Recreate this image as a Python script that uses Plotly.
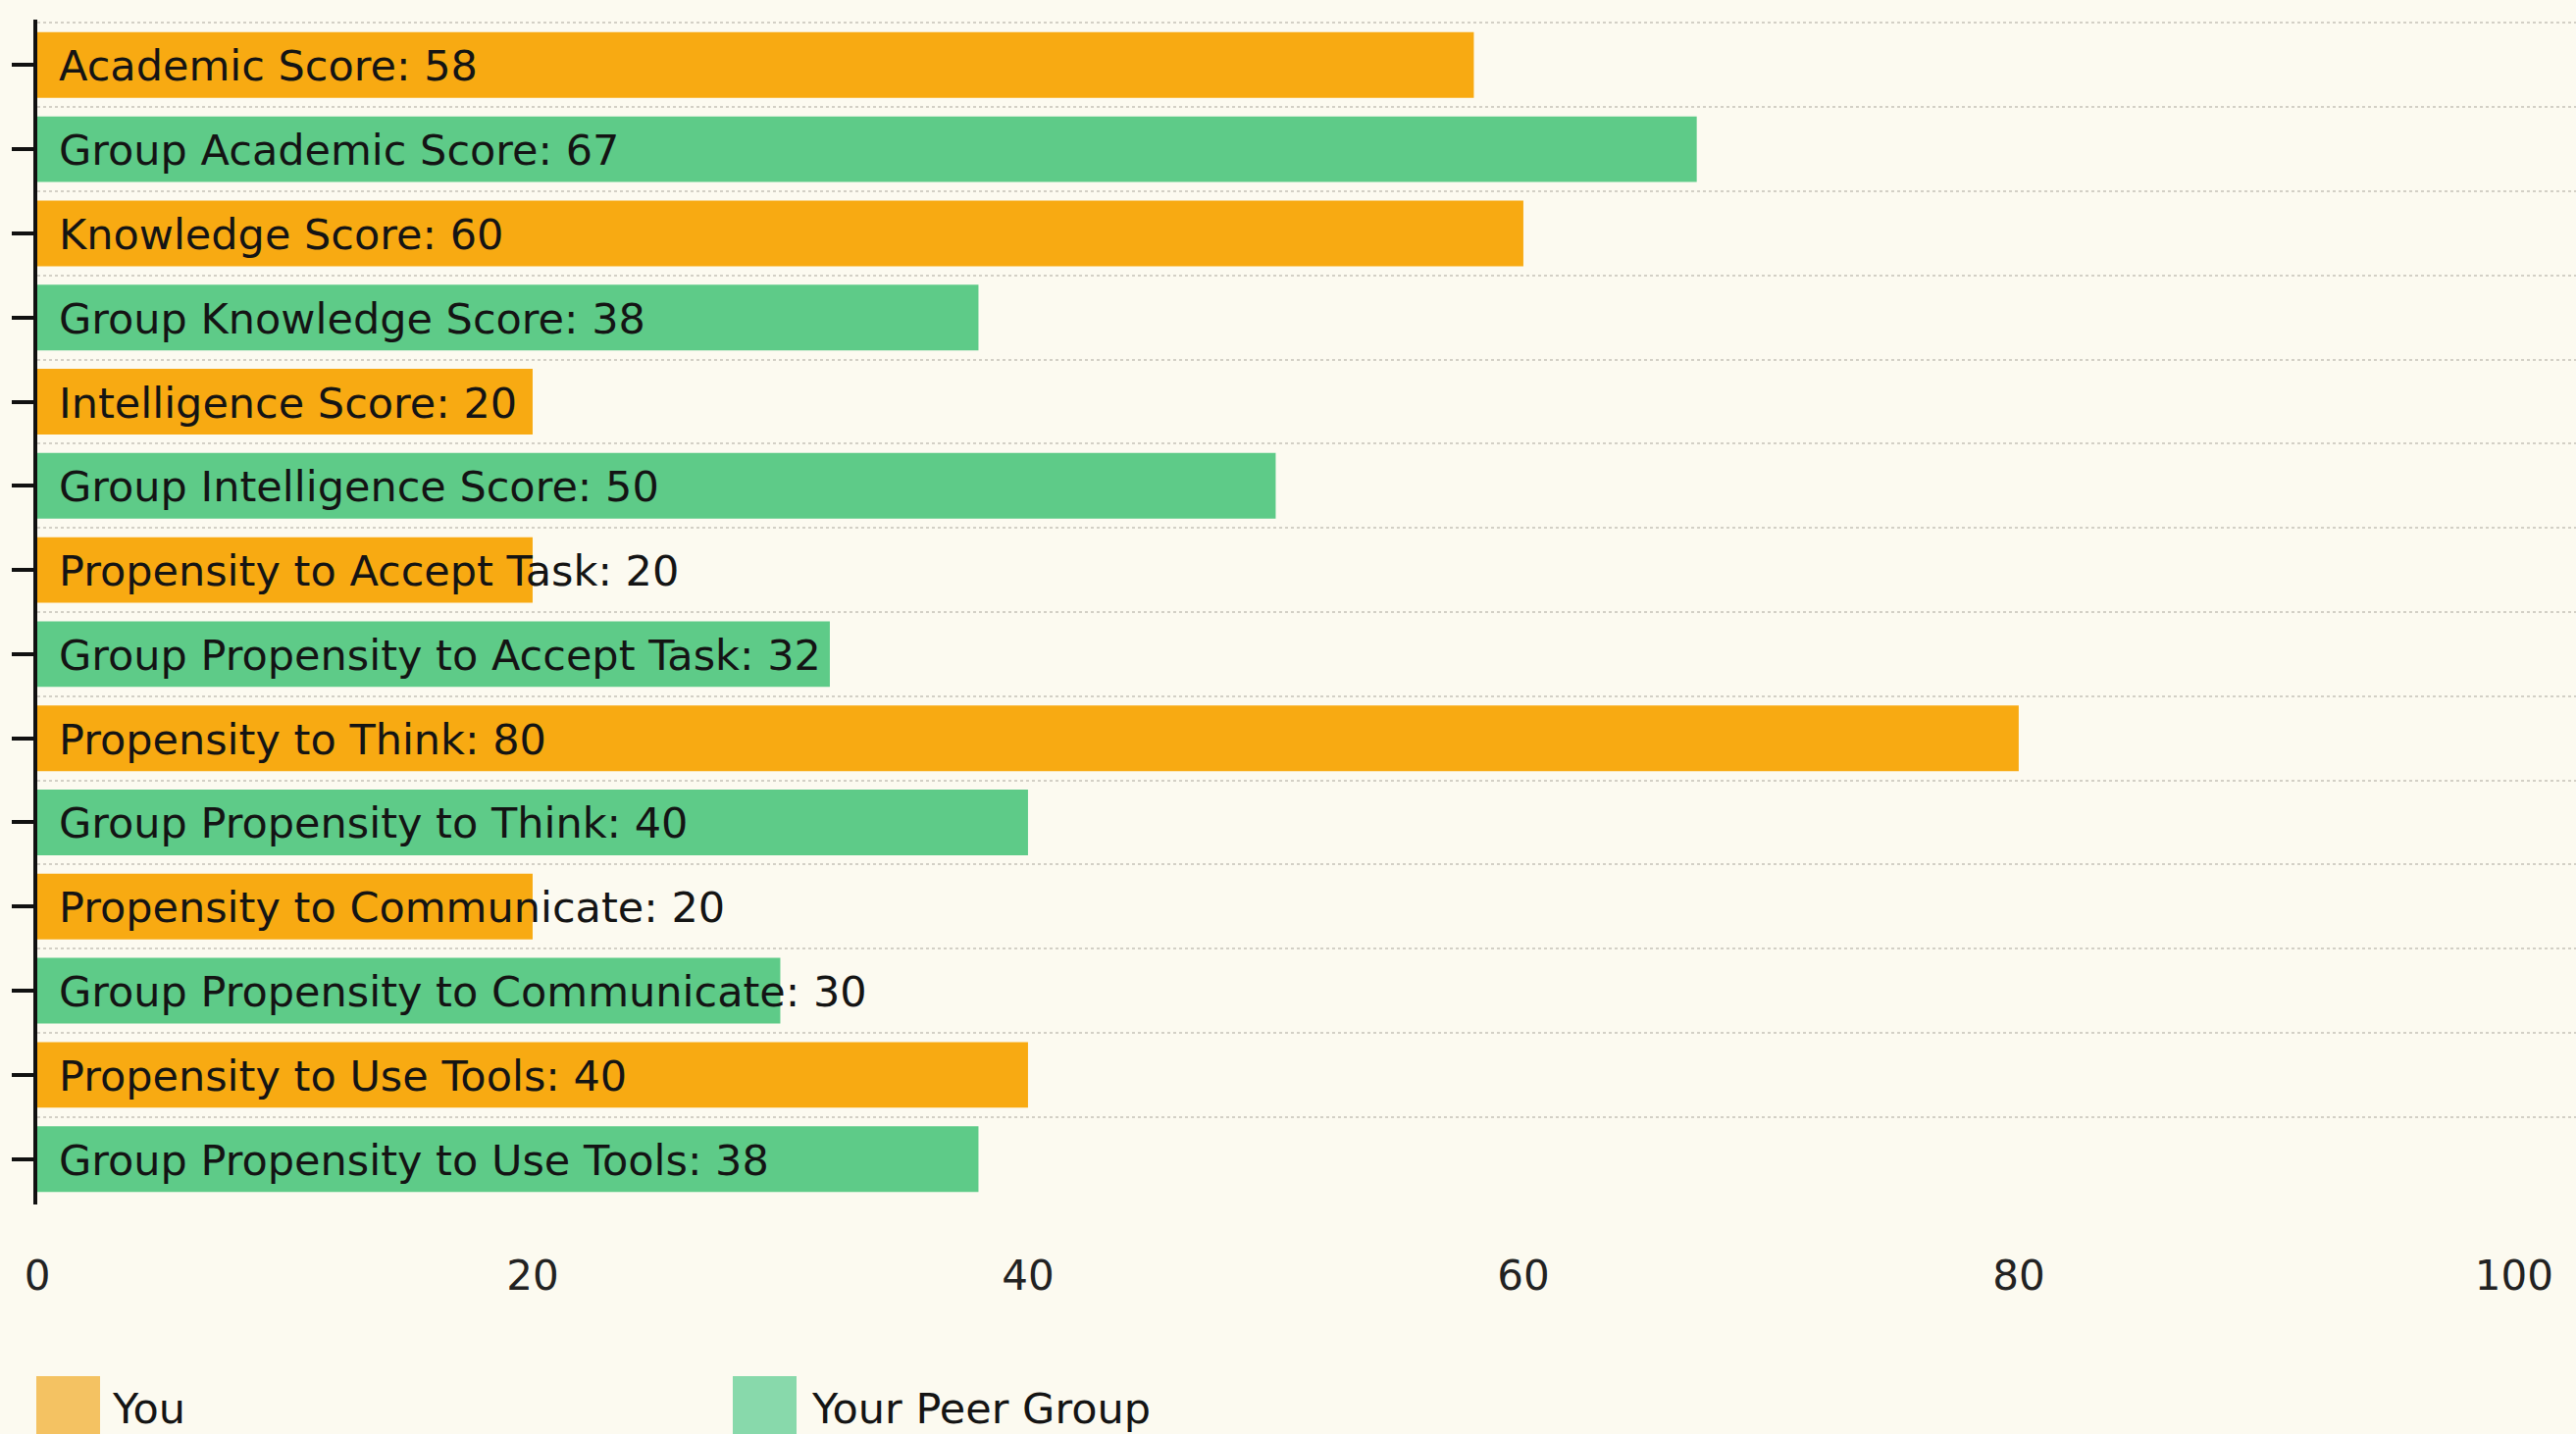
import plotly.graph_objects as go

# ---- data ----
measures = ["Academic Score", "Knowledge Score", "Intelligence Score",
            "Propensity to Accept Task", "Propensity to Think",
            "Propensity to Communicate", "Propensity to Use Tools"]
you_values = [58, 60, 20, 20, 80, 20, 40]
group_values = [67, 38, 50, 32, 40, 30, 38]
series_names = ["You", "Your Peer Group"]
x_ticks = [0, 20, 40, 60, 80, 100]

you_cats = measures
group_cats = ["Group " + m for m in measures]
categories = []
for a, b in zip(you_cats, group_cats):
    categories += [a, b]

ORANGE = "#F8AA12"
GREEN = "#5ECB88"
ORANGE_LEG = "#F4C262"
GREEN_LEG = "#88D9AB"
BG = "#FCFAF0"
FONT = "DejaVu Sans, Verdana, sans-serif"

fig = go.Figure()
fig.add_trace(go.Bar(y=you_cats, x=you_values, orientation="h", name=series_names[0],
                     marker=dict(color=ORANGE, line=dict(width=0)), showlegend=False,
                     hoverinfo="x+y"))
fig.add_trace(go.Bar(y=group_cats, x=group_values, orientation="h", name=series_names[1],
                     marker=dict(color=GREEN, line=dict(width=0)), showlegend=False,
                     hoverinfo="x+y"))
# invisible trace on overlay axis carrying the centred tick marks
fig.add_trace(go.Scatter(y=categories, x=[None] * len(categories), yaxis="y2",
                         mode="markers", showlegend=False, hoverinfo="skip"))

# value labels inside bars
for cats, vals in ((you_cats, you_values), (group_cats, group_values)):
    for c, v in zip(cats, vals):
        fig.add_annotation(x=0, y=c, xref="x", yref="y", text=f"{c}: {v}",
                           showarrow=False, xanchor="left", yanchor="middle",
                           xshift=20, yshift=-1,
                           font=dict(family=FONT, size=43, color="#141414"))

# manual legend with large swatches
legend_items = [(series_names[0], ORANGE_LEG, -1, 74),
                (series_names[1], GREEN_LEG, 709, 787)]
for name, col, sx, tx in legend_items:
    fig.add_shape(type="rect", xref="paper", yref="paper",
                  xsizemode="pixel", ysizemode="pixel", xanchor=0, yanchor=0,
                  x0=sx, x1=sx + 65, y0=-175, y1=-250,
                  fillcolor=col, line=dict(width=0))
    fig.add_annotation(x=0, y=0, xref="paper", yref="paper", text=name,
                       showarrow=False, xanchor="left", yanchor="middle",
                       xshift=tx, yshift=-208,
                       font=dict(family=FONT, size=43, color="#141414"))

rng = [len(categories) - 0.5 + 0.04, -0.5 - 0.04]
fig.update_layout(
    width=2626, height=1462,
    margin=dict(l=38, r=0, t=20, b=234),
    paper_bgcolor=BG, plot_bgcolor=BG,
    barmode="overlay", bargap=0.22,
    showlegend=False,
    font=dict(family=FONT, color="#141414"),
    xaxis=dict(range=[0, 102.5], tickvals=x_ticks, showgrid=False, zeroline=False,
               showline=False, ticks="outside", ticklen=36,
               tickcolor="rgba(0,0,0,0)",
               tickfont=dict(family=FONT, size=42, color="#222222")),
    yaxis=dict(type="category", categoryorder="array", categoryarray=categories,
               range=rng, tickson="boundaries", showgrid=True,
               gridcolor="#D3D0C6", griddash="dot", gridwidth=2,
               showticklabels=False, ticks="", showline=False, zeroline=False),
    yaxis2=dict(type="category", categoryorder="array", categoryarray=categories,
                range=rng, overlaying="y", side="left", showgrid=False,
                showticklabels=False, ticks="outside", ticklen=22, tickwidth=4,
                tickcolor="#111111", showline=True, linecolor="#111111",
                linewidth=4, zeroline=False),
)

fig.write_html("out.html",
               config={"displayModeBar": False},
               post_script="document.body.style.margin='0';"
                           "document.body.style.overflow='hidden';")
